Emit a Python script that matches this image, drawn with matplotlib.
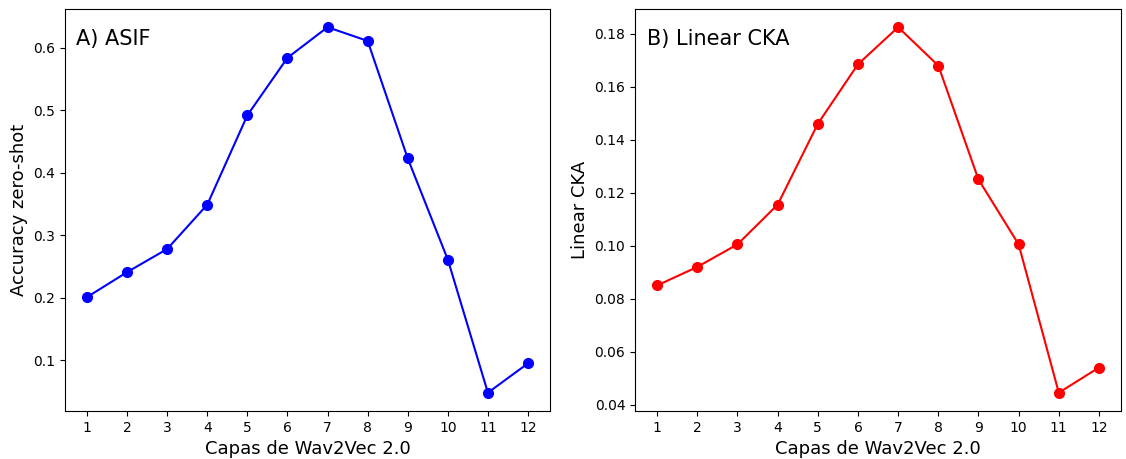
import matplotlib
matplotlib.use('Agg')
import matplotlib.pyplot as plt

capas = list(range(1, 13))
asif = [0.201, 0.241, 0.278, 0.349, 0.492, 0.584, 0.633, 0.611, 0.423, 0.261, 0.048, 0.095]
cka = [0.085, 0.092, 0.1005, 0.1155, 0.146, 0.1685, 0.1825, 0.168, 0.125, 0.1005, 0.0445, 0.054]

fig = plt.figure(figsize=(11.26, 4.59), dpi=100)
ax1 = fig.add_axes([0.0577, 0.1046, 0.4308, 0.876])
ax2 = fig.add_axes([0.5640, 0.1046, 0.4316, 0.876])

ax1.plot(capas, asif, marker='o', color='blue', markersize=7, linewidth=1.5)
ax1.set_xticks(capas)
ax1.set_xlabel('Capas de Wav2Vec 2.0', fontsize=13)
ax1.set_ylabel('Accuracy zero-shot', fontsize=13)
ax1.text(0.022, 0.95, 'A) ASIF', transform=ax1.transAxes, fontsize=15, va='top')

ax2.plot(capas, cka, marker='o', color='red', markersize=7, linewidth=1.5)
ax2.set_xticks(capas)
ax2.set_xlabel('Capas de Wav2Vec 2.0', fontsize=13)
ax2.set_ylabel('Linear CKA', fontsize=13)
ax2.text(0.025, 0.95, 'B) Linear CKA', transform=ax2.transAxes, fontsize=15, va='top')

for ax in (ax1, ax2):
    ax.tick_params(labelsize=10)

fig.savefig('out.png', dpi=100)
